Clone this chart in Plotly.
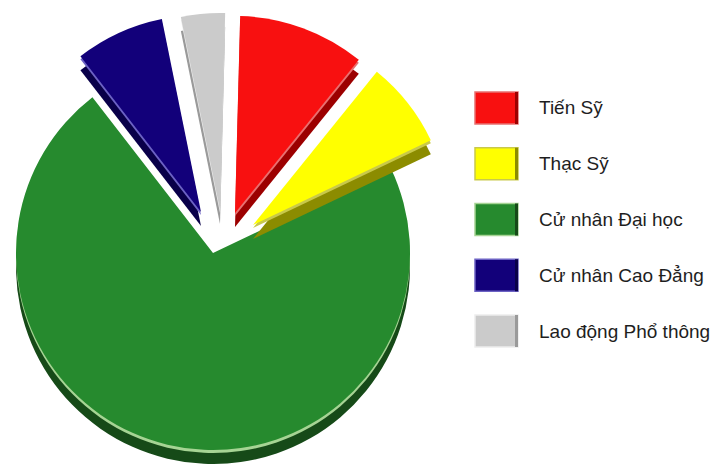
import plotly.graph_objects as go

# Staff qualification breakdown (percent)
labels = ["Tiến Sỹ", "Thạc Sỹ", "Cử nhân Đại học", "Cử nhân Cao Đẳng", "Lao động Phổ thông"]
values = [10.4, 7.1, 71.6, 7.3, 3.6]

# Colours: top face, bevel highlight, side wall
face_colors = ["#F81010", "#FFFF00", "#268A2E", "#12007A", "#CBCBCB"]
light_colors = ["#E87070", "#C9C94A", "#A6D494", "#6C62C4", "#EDEDED"]
dark_colors = ["#9C0000", "#8C8C00", "#164A18", "#090049", "#9A9A9A"]

W, H = 710, 464
PIE_CX, PIE_CY, PIE_R = 213, 253, 197
# Exploded offsets of each slice (pixels, x right / y down)
explode = [(22, -40), (40, -28), (0, 0), (-12, -41), (7, -43)]
THICK = 14      # depth of the side wall
BEVEL = 3       # width of the highlight under the top face

fig = go.Figure()


def domain_for(cx, cy, r):
    return dict(x=[(cx - r) / W, (cx + r) / W],
                y=[(H - cy - r) / H, (H - cy + r) / H])


def add_layer(i, shift, color):
    dx, dy = explode[i]
    colors = ["rgba(0,0,0,0)"] * len(values)
    colors[i] = color
    fig.add_trace(go.Pie(
        labels=labels, values=values, sort=False,
        direction="clockwise", rotation=1.5,
        marker=dict(colors=colors, line=dict(width=0)),
        textinfo="none", hoverinfo="skip", showlegend=False,
        domain=domain_for(PIE_CX + dx, PIE_CY + dy + shift, PIE_R),
    ))


# Large slice first, then the exploded ones above it
order = [2, 0, 1, 3, 4]
for i in order:
    add_layer(i, THICK, dark_colors[i])
    add_layer(i, BEVEL, light_colors[i])
    add_layer(i, 0, face_colors[i])

# Legend drawn as bevelled swatches with labels
shapes = []
annotations = []
SW_X0, SW_X1, SW_H = 475, 518, 32
ROW0, ROW_STEP = 108, 55.75
for i, lab in enumerate(labels):
    yc = ROW0 + ROW_STEP * i
    y0, y1 = yc - SW_H / 2, yc + SW_H / 2
    shapes.append(dict(type="rect", xref="paper", yref="paper",
                       x0=SW_X0 / W, x1=SW_X1 / W,
                       y0=1 - y1 / H, y1=1 - y0 / H,
                       fillcolor=face_colors[i],
                       line=dict(color=light_colors[i], width=1.5)))
    shapes.append(dict(type="rect", xref="paper", yref="paper",
                       x0=(SW_X1 - 3) / W, x1=SW_X1 / W,
                       y0=1 - y1 / H, y1=1 - y0 / H,
                       fillcolor=dark_colors[i], line=dict(width=0)))
    annotations.append(dict(text=lab, xref="paper", yref="paper",
                            x=537 / W, y=1 - yc / H,
                            xanchor="left", yanchor="middle", showarrow=False,
                            font=dict(family="Arial, Liberation Sans, sans-serif",
                                      size=19, color="#1E1E1E")))

fig.update_layout(
    width=W, height=H, autosize=False,
    margin=dict(l=0, r=0, t=0, b=0),
    paper_bgcolor="white", plot_bgcolor="white",
    showlegend=False,
    shapes=shapes, annotations=annotations,
)

fig.write_html("out.html")
